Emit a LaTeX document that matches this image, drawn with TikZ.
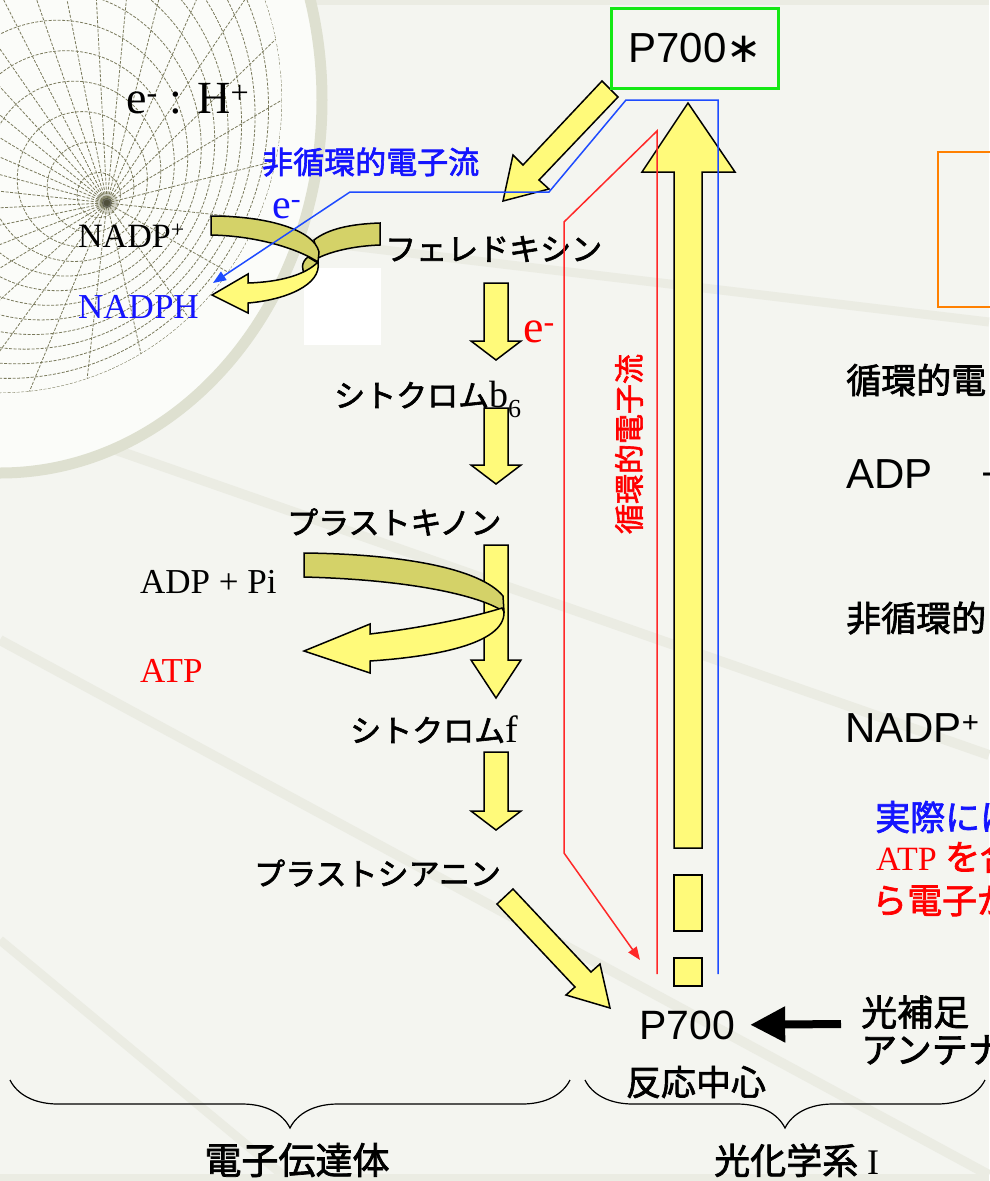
\documentclass[tikz,border=0pt]{standalone}
\usepackage{fontspec}
\setmainfont{Liberation Serif}
\newfontfamily\jpfont[FakeBold=2]{Noto Sans CJK JP}
\newfontfamily\arialfont{Liberation Sans}
\newfontfamily\symfont{DejaVu Sans}
\usetikzlibrary{arrows.meta,decorations.pathreplacing}

\definecolor{slide}{RGB}{244,245,240}
\definecolor{rimwhite}{RGB}{251,252,249}
\definecolor{ringgray}{RGB}{222,224,208}
\definecolor{gridline}{RGB}{122,122,92}
\definecolor{streak}{RGB}{235,236,227}
\definecolor{arrowyellow}{RGB}{255,250,122}
\definecolor{ribbonolive}{RGB}{212,210,104}
\definecolor{flowblue}{RGB}{30,75,255}
\definecolor{textblue}{RGB}{20,20,255}
\definecolor{flowred}{RGB}{255,40,40}
\definecolor{textred}{RGB}{255,0,0}
\definecolor{boxgreen}{RGB}{20,232,20}
\definecolor{boxorange}{RGB}{255,128,0}

\newcommand{\fsz}[1]{\fontsize{#1}{#1}\selectfont}

\begin{document}
\begin{tikzpicture}[x=1pt,y=-1pt,
    lbl/.style={inner sep=0pt, anchor=base west},
    jlbl/.style={inner sep=0pt, anchor=west, font={\jpfont\fsz{31}}},
    yarrow/.style={draw=black, line width=1.5pt, fill=arrowyellow, line join=miter},
    ribbon/.style={draw=black, line width=1.5pt, fill=ribbonolive},
    meshline/.style={gridline, line width=0.8pt, dash pattern=on 3pt off 1.5pt},
    flow/.style={line width=1.5pt, -{Triangle[length=13pt,width=10pt]}},
    bracebelow/.style={decorate, decoration={brace, mirror, amplitude=48pt}, line width=1.2pt}]

% slide background
\fill[slide] (0,0) rectangle (989,1181);
\useasboundingbox (0,0) rectangle (989,1181);
\draw[streak, line width=9pt] (300,240) -- (989,322);
\draw[streak, line width=10pt] (116,450) -- (989,755);
\draw[streak, line width=10pt] (0,640) -- (989,1175);
\draw[streak, line width=9pt] (0,940) -- (290,1181);
\fill[streak] (0,0) rectangle (989,5);
\fill[streak] (0,1174) rectangle (989,1181);

% globe in the corner
\fill[rimwhite] (0,100) ellipse [x radius=322, y radius=373];
\draw[ringgray, line width=11pt] (0,100) ellipse [x radius=322, y radius=373];
\begin{scope}
  \clip (0,100) ellipse [x radius=282, y radius=293];
  \foreach \k [evaluate=\k as \t using {\k/13}] in {1,...,13}
    \draw[meshline] ({107-107*\t},{203-103*\t}) ellipse [x radius={282*\t}, y radius={293*\t}];
  \foreach \a in {0,12,...,348}
    \draw[meshline] (107,203) -- ({282*cos(\a)},{100+293*sin(\a)});
\end{scope}
\fill[gridline, opacity=0.3] (107,203) circle [radius=11];
\fill[gridline!50!black, opacity=0.7] (107,203) circle [radius=5];

\fill[white] (304,268) rectangle (381,345);
\draw[boxorange, line width=2.5pt] (938,152) rectangle (1000,307);

% electron carriers, top to bottom
\foreach \ya/\yb/\yc in {283/341/360, 408/465/484, 545/660/698, 752/811/830}
  \draw[yarrow] (484,\ya) -- (484,\yb) -- (471,\yb) -- (496,\yc) -- (521,\yb) -- (508,\yb) -- (508,\ya) -- cycle;
\draw[yarrow] (602,81) -- (523,165) -- (513,155) -- (503,201) -- (549,189) -- (539,180) -- (618,97) -- cycle;
\draw[yarrow] (513,889) -- (591,972) -- (600,964) -- (610,1008) -- (566,995) -- (575,987) -- (497,904) -- cycle;

% excitation of P700
\draw[yarrow] (674,848) -- (674,172) -- (642,172) -- (688,103) -- (735,172) -- (702,172) -- (702,848) -- cycle;
\draw[yarrow] (674,875) rectangle (702,931);
\draw[yarrow] (674,958) rectangle (702,986);

% NADP+ -> NADPH ribbon
\draw[ribbon] (380,223) .. controls (350,224) and (328,229) .. (314,240) -- (318,258) .. controls (330,252) and (352,246) .. (380,245) -- cycle;
\draw[ribbon] (211,216) .. controls (268,216) and (314,230) .. (319,252) -- (318,262) .. controls (300,250) and (260,236) .. (211,235) -- cycle;
\draw[ribbon] (308,257) .. controls (301,262) and (301,271) .. (306,275) -- (318,263) -- cycle;
\draw[yarrow] (318,262) .. controls (305,275) and (280,282) .. (248,283) -- (248,274) -- (212,295) -- (248,313) -- (248,303) .. controls (285,300) and (322,285) .. (318,262) -- cycle;

% ADP + Pi -> ATP ribbon
\draw[ribbon] (304,553) .. controls (400,554) and (480,568) .. (503,596) -- (504,612) .. controls (485,598) and (420,580) .. (304,577) -- cycle;
\draw[yarrow] (502,608) .. controls (470,618) and (420,628) .. (370,634) -- (370,624) -- (304,651) -- (370,673) -- (370,661) .. controls (430,657) and (505,645) .. (504,612) -- cycle;

% labels
\node[draw=boxgreen, line width=3pt, minimum width=167pt, minimum height=80pt, inner sep=0pt, font={\arialfont\fsz{42}}] (p700s) at (695,48) {P700{\symfont ∗}};
\node[lbl, font=\fsz{46}] (ratio) at (126,113) {e\textsuperscript{-} : H\textsuperscript{+}};
\node[jlbl, text=textblue] (nonclbl) at (262,162) {非循環的電子流};
\node[lbl, font=\fsz{42}, text=textblue] (eblue) at (272,218) {e\textsuperscript{-}};
\node[lbl, font=\fsz{34}] (nadp) at (78,247) {NADP\textsuperscript{+}};
\node[lbl, font=\fsz{35}, text=textblue] (nadph) at (78,318) {NADPH};
\node[jlbl] (fd) at (385,249) {フェレドキシン};
\node[lbl, font=\fsz{46}, text=textred] (ered) at (523,342) {e\textsuperscript{-}};
\node[lbl, font={\jpfont\fsz{31}}] (cytb) at (334,407) {シトクロム{\rmfamily\fsz{38}b\raisebox{-10pt}{\fsz{26}6}}};
\node[jlbl] (pq) at (287,522) {プラストキノン};
\node[lbl, font=\fsz{35}] (adp) at (140,593) {ADP + Pi};
\node[lbl, font=\fsz{35}, text=textred] (atp) at (140,682) {ATP};
\node[lbl, font={\jpfont\fsz{31}}] (cytf) at (350,742) {シトクロム{\rmfamily\fsz{38}f}};
\node[jlbl] (pc) at (254,873) {プラストシアニン};
\node[rotate=90, inner sep=0pt, text=textred, font={\jpfont\fsz{30}}] (cyclbl) at (629,444) {循環的電子流};
\node[lbl, font={\arialfont\fsz{41}}] (p700) at (639,1039) {P700};
\node[inner sep=0pt, font={\jpfont\fsz{35}}] (rc) at (696,1082) {反応中心};
\node[jlbl, font={\jpfont\fsz{36}}] (ant1) at (861,1012) {光補足};
\node[jlbl, font={\jpfont\fsz{36}}] (ant2) at (861,1050) {アンテナ};

% notes on the right
\node[jlbl, font={\jpfont\fsz{35}}] (cycnote) at (846,380) {循環的電};
\node[lbl, font={\arialfont\fsz{42}}] (adpnote) at (846,488) {ADP};
\node[lbl, font={\arialfont\fsz{42}}] (plusnote) at (981,488) {+};
\node[jlbl, font={\jpfont\fsz{35}}] (noncnote) at (846,618) {非循環的};
\node[lbl, font={\arialfont\fsz{42}}] (nadpnote) at (845,742) {NADP\textsuperscript{+}};
\node[jlbl, font={\jpfont\fsz{35}}, text=textblue] (note1) at (875,817) {実際には};
\node[lbl, font=\fsz{34}, text=textred] (note2) at (876,870) {ATP {\jpfont\fsz{35}を合}};
\node[jlbl, font={\jpfont\fsz{35}}, text=textred] (note3) at (872,900) {ら電子が};

% electron flows
\coordinate (bluefoot) at (718,974);
\coordinate (bluetip) at (213,283);
\draw[flowblue, flow] (bluefoot) -- (718,100) -- (626,100) -- (549,192) -- (350,192) -- (bluetip);
\coordinate (redfoot) at (657,974);
\coordinate (redtip) at (640,960);
\draw[flowred, flow] (redfoot) -- (657,131) -- (564,222) -- (564,853) -- (redtip);

\coordinate (antfoot) at (841,1024);
\draw[line width=8pt, -{Triangle[length=35pt,width=34pt]}, shorten >=15pt] (antfoot) -- (p700.east);

% groups
\draw[bracebelow] (10,1080) -- (570,1080);
\draw[bracebelow] (585,1080) -- (985,1080);
\node[inner sep=0pt, font={\jpfont\fsz{37}}] (carriers) at (297,1160) {電子伝達体};
\node[lbl, font={\jpfont\fsz{36}}] (ps1) at (714,1174) {光化学系{\rmfamily\fsz{36} I}};
\end{tikzpicture}
\end{document}
